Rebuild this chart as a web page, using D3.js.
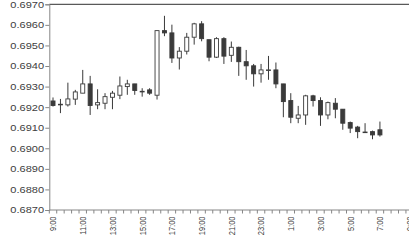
<!DOCTYPE html>
<html>
<head>
<meta charset="utf-8">
<script src="https://cdn.jsdelivr.net/npm/d3@7"></script>
<style>
body{margin:0;background:#fff;}
svg{display:block;}
</style>
</head>
<body>
<div id="chart"></div>
<script>
// half-hour categories (axis runs on past the last bar)
var times = ["9:00","9:30","10:00","10:30","11:00","11:30","12:00","12:30","13:00","13:30",
  "14:00","14:30","15:00","15:30","16:00","16:30","17:00","17:30","18:00","18:30",
  "19:00","19:30","20:00","20:30","21:00","21:30","22:00","22:30","23:00","23:30",
  "0:00","0:30","1:00","1:30","2:00","2:30","3:00","3:30","4:00","4:30",
  "5:00","5:30","6:00","6:30","7:00","7:30","8:00","8:30","9:00"];

var openVals  = [0.69230,0.69212,0.69211,0.69239,0.69268,0.69313,0.69211,0.69219,0.69248,0.69258,
  0.69300,0.69313,0.69276,0.69284,0.69258,0.69572,0.69561,0.69439,0.69472,0.69540,
  0.69605,0.69528,0.69443,0.69533,0.69452,0.69491,0.69421,0.69401,0.69362,0.69380,
  0.69381,0.69313,0.69232,0.69146,0.69162,0.69255,0.69232,0.69162,0.69219,0.69190,
  0.69125,0.69103,0.69078,0.69081,0.69090];
var highVals  = [0.69247,0.69240,0.69319,0.69284,0.69381,0.69352,0.69287,0.69268,0.69279,0.69349,
  0.69333,0.69313,0.69292,0.69292,0.69572,0.69644,0.69601,0.69492,0.69561,0.69610,
  0.69618,0.69528,0.69540,0.69540,0.69519,0.69494,0.69478,0.69410,0.69410,0.69449,
  0.69417,0.69313,0.69268,0.69206,0.69260,0.69260,0.69248,0.69227,0.69244,0.69190,
  0.69130,0.69109,0.69122,0.69086,0.69130];
var lowVals   = [0.69203,0.69171,0.69203,0.69211,0.69268,0.69162,0.69190,0.69190,0.69190,0.69239,
  0.69260,0.69260,0.69251,0.69260,0.69237,0.69545,0.69415,0.69383,0.69456,0.69504,
  0.69520,0.69423,0.69439,0.69410,0.69420,0.69352,0.69333,0.69300,0.69319,0.69333,
  0.69292,0.69151,0.69122,0.69122,0.69114,0.69203,0.69109,0.69141,0.69146,0.69090,
  0.69074,0.69049,0.69076,0.69044,0.69057];
var closeVals = [0.69208,0.69214,0.69240,0.69274,0.69313,0.69208,0.69222,0.69251,0.69268,0.69303,
  0.69313,0.69281,0.69277,0.69268,0.69572,0.69561,0.69439,0.69472,0.69540,0.69605,
  0.69533,0.69443,0.69533,0.69448,0.69491,0.69421,0.69401,0.69362,0.69381,0.69381,
  0.69313,0.69227,0.69151,0.69162,0.69255,0.69232,0.69162,0.69222,0.69190,0.69122,
  0.69098,0.69081,0.69079,0.69065,0.69065];

var yTicks = [0.6870,0.6880,0.6890,0.6900,0.6910,0.6920,0.6930,0.6940,0.6950,0.6960,0.6970];

var svgWidth = 409;
var svgHeight = 246;
var margin = {top: 4.3, left: 49.3};
var bandW = 7.43;
var width = times.length * bandW;
var height = 205.7;

var svg = d3.select("#chart").append("svg")
    .attr("width", svgWidth)
    .attr("height", svgHeight);

var chartGroup = svg.append("g")
    .attr("transform", `translate(${margin.left},${margin.top})`);

var x = d3.scaleBand().domain(d3.range(times.length)).range([0, width]);
var y = d3.scaleLinear().domain([0.6870, 0.6970]).range([height, 0]);

var candles = openVals.map(function(o, i) {
    return {i: i, open: o, high: highVals[i], low: lowVals[i], close: closeVals[i]};
});

// top border of plot area
chartGroup.append("line")
    .attr("x1", 0).attr("x2", width)
    .attr("y1", 0).attr("y2", 0)
    .attr("stroke", "#595959").attr("stroke-width", 1.2);

// y axis
var leftAxis = d3.axisLeft(y).tickValues(yTicks).tickSize(4).tickFormat(d3.format(".4f"));
var yG = chartGroup.append("g").call(leftAxis);
yG.select(".domain").attr("stroke", "#868686");
yG.selectAll(".tick line").attr("stroke", "#868686");
yG.selectAll(".tick text")
    .attr("x", -4)
    .attr("dy", "0.34em")
    .attr("transform", "scale(1.3,1)")
    .attr("fill", "#404040")
    .style("font-family", "Liberation Sans, Arial, sans-serif")
    .style("font-size", "8.5px");

// x axis: labels every 2 hours, ticks between every category
var bottomAxis = d3.axisBottom(x)
    .tickValues(d3.range(0, times.length, 4))
    .tickSize(0)
    .tickFormat(function(i) { return times[i]; });
var xG = chartGroup.append("g")
    .attr("transform", `translate(0,${height})`)
    .call(bottomAxis);
xG.select(".domain").remove();
xG.append("line")
    .attr("x1", 0).attr("x2", width)
    .attr("stroke", "#868686");
xG.selectAll(".tick text")
    .attr("x", 0).attr("y", 0)
    .attr("dy", "0.34em")
    .attr("text-anchor", "end")
    .attr("transform", "translate(0,6.5) scale(1.3,1) rotate(-90)")
    .attr("fill", "#404040")
    .style("font-family", "Liberation Sans, Arial, sans-serif")
    .style("font-size", "7.5px");
xG.selectAll(".minor")
    .data(d3.range(times.length + 1))
    .enter().append("line")
    .attr("x1", function(i) { return i * x.step(); })
    .attr("x2", function(i) { return i * x.step(); })
    .attr("y1", 0).attr("y2", 3.5)
    .attr("stroke", "#868686");

// candles
var bodyW = 4;
var cg = chartGroup.selectAll(".candle").data(candles).enter()
    .append("g").attr("class", "candle");

cg.append("line")
    .attr("x1", d => x(d.i) + x.bandwidth() / 2)
    .attr("x2", d => x(d.i) + x.bandwidth() / 2)
    .attr("y1", d => y(d.high))
    .attr("y2", d => y(d.low))
    .attr("stroke", "#3a3a3a")
    .attr("stroke-width", 1);

cg.append("rect")
    .attr("x", d => x(d.i) + x.bandwidth() / 2 - bodyW / 2)
    .attr("width", bodyW)
    .attr("y", d => y(Math.max(d.open, d.close)))
    .attr("height", d => Math.max(0.6, Math.abs(y(d.open) - y(d.close))))
    .attr("fill", d => d.close >= d.open ? "#ffffff" : "#3a3a3a")
    .attr("stroke", "#3a3a3a")
    .attr("stroke-width", 0.9);
</script>
</body>
</html>
